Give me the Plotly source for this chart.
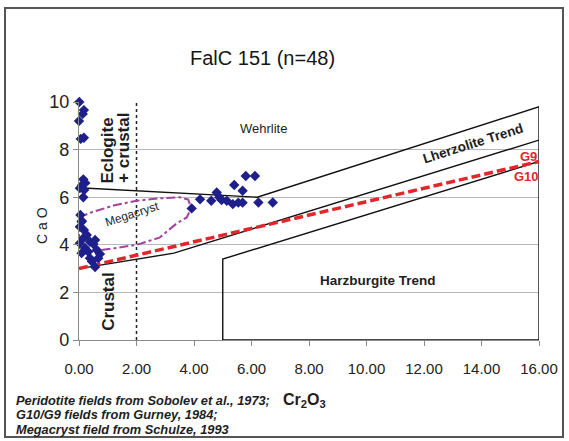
import plotly.graph_objects as go

# Garnet analyses, FalC 151 (Cr2O3 vs CaO, wt%)
cr2o3 = [0.01, 0.17, 0.13, 0.00, 0.17, 0.06,
         0.15, 0.22, 0.10, 0.03, 0.18, 0.15,
         0.05, 0.10, 0.09, 0.03, 0.17, 0.27, 0.15, 0.56, 0.38, 0.50,
         0.03, 0.21, 0.62, 0.32, 0.09, 0.73, 0.67, 0.38, 0.56, 0.45,
         3.92, 4.21, 4.79, 4.88, 4.96, 5.14, 5.35, 5.40, 5.54, 5.69,
         5.69, 5.80, 6.12, 6.24, 6.74, 4.60]
cao = [10.0, 9.66, 9.50, 9.20, 8.50, 8.45,
       6.75, 6.60, 6.50, 6.38, 6.30, 6.00,
       5.25, 5.00, 4.97, 4.76, 4.62, 4.41, 4.28, 4.20, 4.13, 4.03,
       4.07, 3.87, 3.78, 3.71, 3.65, 3.61, 3.44, 3.44, 3.07, 3.30,
       5.53, 5.91, 6.20, 6.00, 5.88, 5.85, 5.71, 6.51, 5.77, 6.27,
       5.77, 6.89, 6.89, 5.78, 5.78, 5.85]

# Sobolev et al. (1973) peridotite field boundaries
upper_x = [0, 6.2, 16, 16, 5, 5, 16]
upper_y = [6.4, 6.0, 9.8, 0, 0, 3.4, 7.5]
lherz_low_x = [0, 3.3, 16]
lherz_low_y = [3.0, 3.65, 8.4]

# Gurney (1984) G10/G9 divide
g10_x = [0, 16]
g10_y = [3.0, 7.5]

# Schulze (1993) megacryst field outline
mega_x = [0, 0.4, 1.2, 2.0, 2.8, 3.5, 3.8, 3.9, 3.75, 3.4, 2.8, 2.0, 1.2, 0.5, 0, 0]
mega_y = [5.15, 5.35, 5.65, 5.85, 5.95, 6.0, 5.9, 5.55, 5.15, 4.9, 4.3, 4.0, 3.85, 3.72, 3.65, 5.15]

# Eclogite / crustal divide
crust_x = [2, 2]
crust_y = [0, 10]

x_ticks = [0, 2, 4, 6, 8, 10, 12, 14, 16]
y_ticks = [0, 2, 4, 6, 8, 10]

footnotes = ["Peridotite fields from Sobolev et al., 1973;",
             "G10/G9 fields from Gurney, 1984;",
             "Megacryst field from Schulze, 1993"]

BASE = "Liberation Sans, Arial, sans-serif"
INK = "#1e1e1e"

fig = go.Figure()

fig.add_trace(go.Scatter(x=crust_x, y=crust_y, mode="lines",
                         line=dict(color="#222", width=1.5, dash="dot"),
                         hoverinfo="skip", cliponaxis=False))
fig.add_trace(go.Scatter(x=mega_x, y=mega_y, mode="lines",
                         line=dict(color="#a0449e", width=2, dash="dashdot"),
                         hoverinfo="skip", cliponaxis=False))
fig.add_trace(go.Scatter(x=upper_x, y=upper_y, mode="lines",
                         line=dict(color="#111", width=1.4),
                         hoverinfo="skip", cliponaxis=False))
fig.add_trace(go.Scatter(x=lherz_low_x, y=lherz_low_y, mode="lines",
                         line=dict(color="#111", width=1.4),
                         hoverinfo="skip", cliponaxis=False))
fig.add_trace(go.Scatter(x=g10_x, y=g10_y, mode="lines",
                         line=dict(color="#e3262b", width=3.5, dash="9px,4px"),
                         hoverinfo="skip", cliponaxis=False))
fig.add_trace(go.Scatter(x=cr2o3, y=cao, mode="markers",
                         marker=dict(symbol="diamond", size=8, color="#1f1f8c",
                                     line=dict(width=0)),
                         cliponaxis=False))

W, H = 569, 441
L, R, T, B = 79, 30, 102, 101
pw, ph = W - L - R, H - T - B


def px(xp):
    return (xp - L) / pw


def py(yp):
    return (H - B - yp) / ph


annotations = [
    dict(text="FalC 151 (n=48)", x=px(262), y=py(45), xref="paper", yref="paper",
         showarrow=False, font=dict(family=BASE, size=20, color="#151515")),
    dict(text="Wehrlite", x=6.4, y=8.9, showarrow=False,
         font=dict(family=BASE, size=13, color=INK)),
    dict(text="Eclogite", x=1.0, y=7.95, textangle=-90, showarrow=False,
         font=dict(family=BASE, size=17, color=INK, weight="bold")),
    dict(text="+ crustal", x=1.55, y=8.05, textangle=-90, showarrow=False,
         font=dict(family=BASE, size=17, color=INK, weight="bold")),
    dict(text="Crustal", x=1.04, y=1.64, textangle=-90, showarrow=False,
         font=dict(family=BASE, size=17, color=INK, weight="bold")),
    dict(text="Megacryst", x=1.85, y=5.3, textangle=-18, showarrow=False,
         font=dict(family=BASE, size=12, color=INK)),
    dict(text="Lherzolite Trend", x=13.7, y=8.25, textangle=-17.5, showarrow=False,
         font=dict(family=BASE, size=13.5, color=INK, weight="bold")),
    dict(text="G9", x=15.65, y=7.72, showarrow=False,
         font=dict(family=BASE, size=13, color="#e3262b", weight="bold")),
    dict(text="G10", x=15.55, y=6.85, showarrow=False,
         font=dict(family=BASE, size=13, color="#e3262b", weight="bold")),
    dict(text="Harzburgite Trend", x=10.4, y=2.52, showarrow=False,
         font=dict(family=BASE, size=13.5, color=INK, weight="bold")),
    dict(text="C a O", x=px(32), y=py(226), xref="paper", yref="paper",
         textangle=-90, showarrow=False,
         font=dict(family=BASE, size=14, color=INK)),
    dict(text="Cr<sub>2</sub>O<sub>3</sub>", x=px(281), y=py(412), xref="paper",
         yref="paper", xanchor="left", showarrow=False,
         font=dict(family=BASE, size=16, color=INK, weight="bold")),
]

# Source notes, one line each
for i, line in enumerate(footnotes):
    annotations.append(dict(
        text=line, x=px(14), y=py(400 + i * 14.5), xref="paper", yref="paper",
        xanchor="left", yanchor="middle", showarrow=False,
        font=dict(family=BASE, size=12.8, color=INK, weight="bold", style="italic")))

fig.update_layout(
    width=W, height=H,
    margin=dict(l=L, r=R, t=T, b=B),
    paper_bgcolor="white", plot_bgcolor="white",
    showlegend=False,
    annotations=annotations,
    shapes=[dict(type="rect", xref="paper", yref="paper",
                 x0=px(5), x1=px(563), y0=py(437), y1=py(8),
                 line=dict(color="#555", width=2), layer="below")],
    xaxis=dict(range=[0, 16], tickvals=x_ticks, tickformat=".2f",
               showgrid=False, zeroline=False, showline=True,
               linecolor="#8a8a8a", linewidth=1.2, ticks="outside",
               ticklen=5, tickcolor="#8a8a8a", ticklabelstandoff=10,
               tickfont=dict(family=BASE, size=15, color="#222")),
    yaxis=dict(range=[0, 10], tickvals=y_ticks, showgrid=True,
               gridcolor="#b8b8b8", gridwidth=1.2, zeroline=False,
               showline=True, linecolor="#8a8a8a", linewidth=1.2,
               ticks="outside", ticklen=5, tickcolor="#8a8a8a",
               tickfont=dict(family=BASE, size=18, color="#222")),
)

fig.write_html("out.html")
